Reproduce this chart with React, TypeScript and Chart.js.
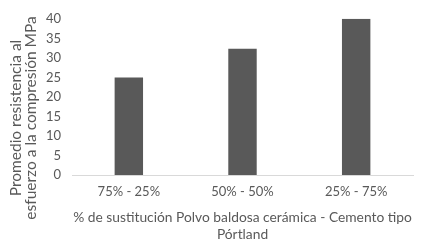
import React, { useEffect, useRef } from "react";
import { Chart, registerables } from "chart.js";

Chart.register(...registerables);

const categories: string[] = ["75% - 25%", "50% - 50%", "25% - 75%"];
const values: number[] = [25, 32.3, 40];
const yTitle: string[] = ["Promedio resistencia al", "esfuerzo a la compresión MPa"];
const xTitle: string[] = ["% de sustitución Polvo baldosa cerámica - Cemento tipo", "Pórtland"];

const TEXT = "#595959";
const FONT = "Lato";

const yTitlePlugin = {
  id: "yTitleCentered",
  afterDraw(chart: any) {
    const ctx = chart.ctx;
    ctx.save();
    ctx.fillStyle = TEXT;
    ctx.font = `15.5px ${FONT}`;
    ctx.textAlign = "center";
    ctx.textBaseline = "middle";
    const cy = 118;
    const xs = [16, 31];
    yTitle.forEach((line, i) => {
      ctx.save();
      ctx.translate(xs[i], cy);
      ctx.rotate(-Math.PI / 2);
      ctx.fillText(line, 0, 0);
      ctx.restore();
    });
    ctx.restore();
  },
};

export default function App() {
  const ref = useRef<HTMLCanvasElement | null>(null);
  useEffect(() => {
    document.body.style.margin = "0";
    if (!ref.current) return;
    const chart = new Chart(ref.current, {
      type: "bar",
      data: {
        labels: categories,
        datasets: [
          {
            data: values,
            backgroundColor: "#595959",
            borderWidth: 0,
            barPercentage: 0.25,
            categoryPercentage: 1,
          },
        ],
      },
      options: {
        animation: false,
        responsive: false,
        maintainAspectRatio: false,
        layout: { padding: { top: 11, right: 29, left: 0, bottom: 0 } },
        plugins: { legend: { display: false }, tooltip: { enabled: false } },
        scales: {
          x: {
            grid: { display: false, drawTicks: false },
            border: { display: true, color: "#d9d9d9", width: 1 },
            ticks: { color: TEXT, font: { family: FONT, size: 13 }, padding: 9 },
            title: {
              display: true,
              text: xTitle,
              color: TEXT,
              font: { family: FONT, size: 13.8, lineHeight: 1.3 },
              padding: { top: 4, bottom: 1 },
            },
            afterFit: (s: any) => {
              s.height = 70;
            },
          },
          y: {
            min: 0,
            max: 40,
            grid: { display: false, drawTicks: false },
            border: { display: false },
            ticks: { stepSize: 5, color: TEXT, font: { family: FONT, size: 13 }, padding: 11 },
            title: { display: false },
            afterFit: (s: any) => {
              s.width = 72;
            },
          },
        },
      },
      plugins: [yTitlePlugin],
    });
    return () => chart.destroy();
  }, []);
  return (
    <div style={{ width: 442, height: 245, background: "#fff" }}>
      <canvas ref={ref} width={442} height={245} style={{ display: "block" }} />
    </div>
  );
}
